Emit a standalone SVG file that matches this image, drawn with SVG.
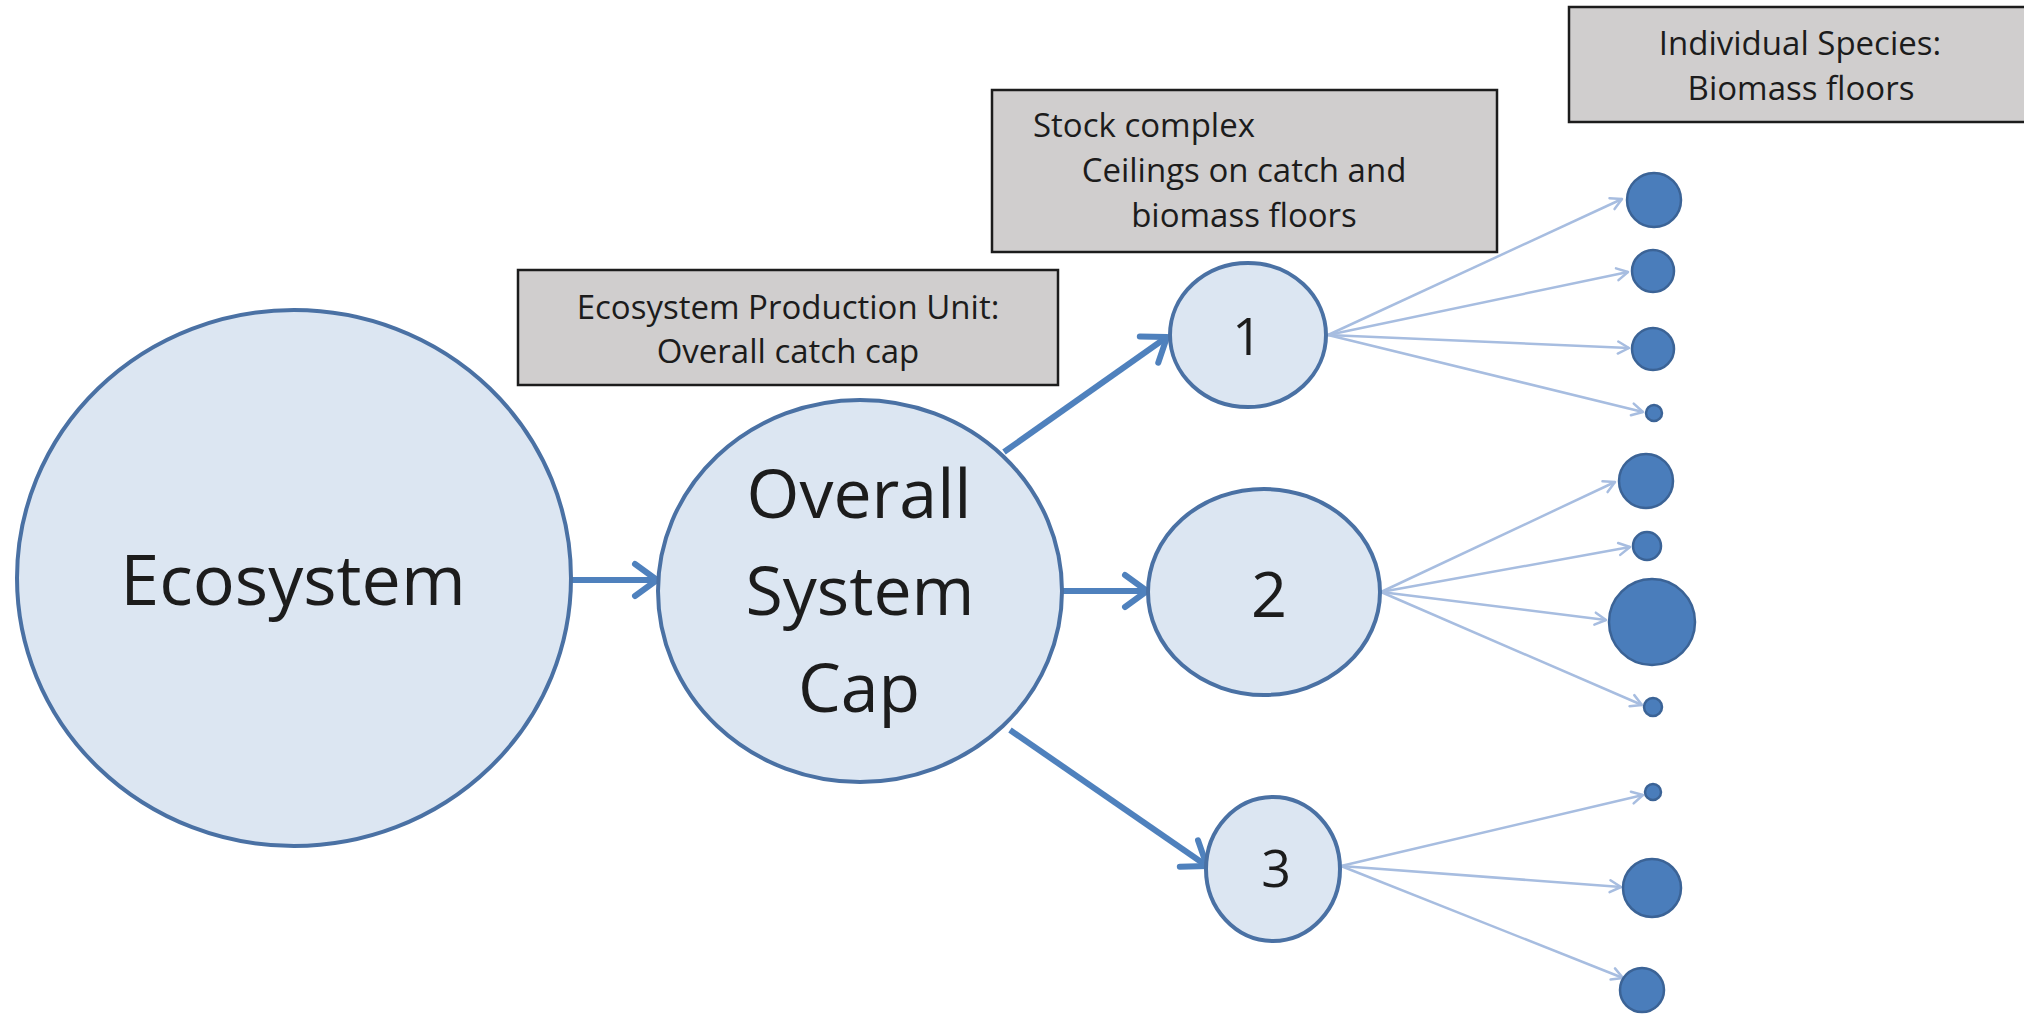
<svg xmlns="http://www.w3.org/2000/svg" width="2024" height="1014" viewBox="0 0 2024 1014">
<style>
  .big { fill:#dce6f2; stroke:#4a71a4; stroke-width:4; }
  .sp { fill:#4a7dbb; stroke:#3b6396; stroke-width:2.5; }
  .box { fill:#d0cece; stroke:#1c1c1c; stroke-width:2.5; }
  .t { font-family:"Open Sans","Noto Sans","Liberation Sans",sans-serif; fill:#1c1c1c; }
  .lg { font-size:68px; }
  .bx { font-size:33px; }
  .thick { stroke:#4f81bd; stroke-width:6; fill:none; marker-end:url(#ah); }
  .thin { stroke:#a7bde0; stroke-width:2.5; fill:none; marker-end:url(#ah2); }
</style>
<defs>
  <marker id="ah" markerUnits="userSpaceOnUse" markerWidth="40" markerHeight="44" refX="30" refY="20" orient="auto">
    <path d="M8,4 L30,20 L8,36" fill="none" stroke="#4f81bd" stroke-width="6" stroke-linecap="round" stroke-linejoin="round"/>
  </marker>
  <marker id="ah2" markerUnits="userSpaceOnUse" markerWidth="20" markerHeight="20" refX="13" refY="10" orient="auto">
    <path d="M2,4 L13,10 L2,16" fill="none" stroke="#a7bde0" stroke-width="2.5" stroke-linecap="round" stroke-linejoin="round"/>
  </marker>
</defs>
<rect width="2024" height="1014" fill="#ffffff"/>

<g id="box-epu">
  <rect class="box" x="518" y="270" width="540" height="115"/>
  <text class="t bx" x="788" y="319" text-anchor="middle">Ecosystem Production Unit:</text>
  <text class="t bx" x="788" y="363" text-anchor="middle">Overall catch cap</text>
</g>
<g id="box-stock">
  <rect class="box" x="992" y="90" width="505" height="162"/>
  <text class="t bx" x="1033" y="137">Stock complex</text>
  <text class="t bx" x="1244" y="182" text-anchor="middle">Ceilings on catch and</text>
  <text class="t bx" x="1244" y="227" text-anchor="middle">biomass floors</text>
</g>
<g id="box-species">
  <rect class="box" x="1569" y="7" width="470" height="115"/>
  <text class="t bx" x="1800" y="55" text-anchor="middle">Individual Species:</text>
  <text class="t bx" x="1801" y="100" text-anchor="middle">Biomass floors</text>
</g>

<g id="connectors">
  <line class="thick" x1="557" y1="580" x2="657" y2="580"/>
  <line class="thick" x1="1004" y1="452" x2="1167" y2="337"/>
  <line class="thick" x1="1062" y1="591" x2="1147" y2="591"/>
  <line class="thick" x1="1010" y1="730" x2="1207" y2="866"/>

  <line class="thin" x1="1328" y1="335" x2="1622" y2="199"/>
  <line class="thin" x1="1328" y1="335" x2="1628" y2="272"/>
  <line class="thin" x1="1328" y1="335" x2="1629" y2="348"/>
  <line class="thin" x1="1328" y1="335" x2="1643" y2="412"/>

  <line class="thin" x1="1381" y1="592" x2="1615" y2="482"/>
  <line class="thin" x1="1381" y1="592" x2="1630" y2="547"/>
  <line class="thin" x1="1381" y1="592" x2="1606" y2="620"/>
  <line class="thin" x1="1381" y1="592" x2="1642" y2="705"/>

  <line class="thin" x1="1341" y1="866" x2="1643" y2="795"/>
  <line class="thin" x1="1341" y1="866" x2="1621" y2="887"/>
  <line class="thin" x1="1341" y1="866" x2="1623" y2="978"/>
</g>

<g id="ecosystem">
  <ellipse class="big" cx="294" cy="578" rx="277" ry="268"/>
  <text class="t" font-size="70" x="293" y="605" text-anchor="middle">Ecosystem</text>
</g>
<g id="overall-cap">
  <ellipse class="big" cx="860" cy="591" rx="202" ry="191"/>
  <text class="t lg" x="859" y="518" text-anchor="middle">Overall</text>
  <text class="t lg" x="860" y="615" text-anchor="middle">System</text>
  <text class="t lg" x="859" y="712" text-anchor="middle">Cap</text>
</g>
<g id="complex-1">
  <ellipse class="big" cx="1248" cy="335" rx="78" ry="72"/>
  <text class="t" font-size="52" x="1247" y="355" text-anchor="middle">1</text>
</g>
<g id="complex-2">
  <ellipse class="big" cx="1264" cy="592" rx="116" ry="103"/>
  <text class="t" font-size="63" x="1269" y="617" text-anchor="middle">2</text>
</g>
<g id="complex-3">
  <ellipse class="big" cx="1273" cy="869" rx="67" ry="72"/>
  <text class="t" font-size="52" x="1276" y="887" text-anchor="middle">3</text>
</g>

<g id="species-a"><circle class="sp" cx="1654" cy="200" r="27"/></g>
<g id="species-b"><circle class="sp" cx="1653" cy="271" r="21"/></g>
<g id="species-c"><circle class="sp" cx="1653" cy="349" r="21"/></g>
<g id="species-d"><circle class="sp" cx="1654" cy="413" r="8"/></g>
<g id="species-e"><circle class="sp" cx="1646" cy="481" r="27"/></g>
<g id="species-f"><circle class="sp" cx="1647" cy="546" r="14"/></g>
<g id="species-g"><circle class="sp" cx="1652" cy="622" r="43"/></g>
<g id="species-h"><circle class="sp" cx="1653" cy="707" r="9"/></g>
<g id="species-i"><circle class="sp" cx="1653" cy="792" r="8"/></g>
<g id="species-j"><circle class="sp" cx="1652" cy="888" r="29"/></g>
<g id="species-k"><circle class="sp" cx="1642" cy="990" r="22"/></g>
</svg>
